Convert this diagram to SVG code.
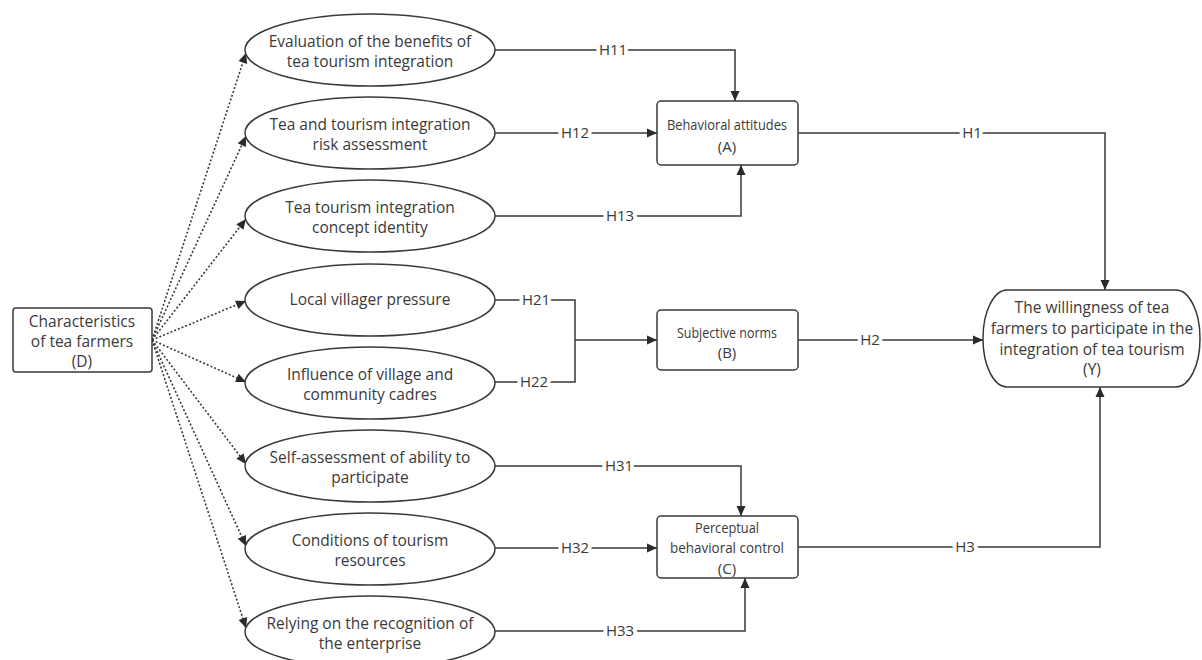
<svg xmlns="http://www.w3.org/2000/svg" width="1202" height="660" viewBox="0 0 1202 660">
<style>
text{font-family:"Open Sans","Liberation Sans",sans-serif;font-size:15.5px;fill:#3a3a3a;text-anchor:middle}
.bx{font-size:15px}
.node{fill:#fff;stroke:#3a3a3a;stroke-width:1.5}
.ln{fill:none;stroke:#3a3a3a;stroke-width:1.5}
.dot{fill:none;stroke:#3a3a3a;stroke-width:1.6;stroke-dasharray:2 2}
.lbl{font-size:15px;stroke:#fff;stroke-width:8;paint-order:stroke;stroke-linejoin:round}
</style>
<defs>
<marker id="arr" viewBox="0 0 10 10" refX="10" refY="5" markerWidth="11" markerHeight="10" markerUnits="userSpaceOnUse" orient="auto">
<path d="M0,0.5 L10,5 L0,9.5 z" fill="#2a2a2a"/>
</marker>
</defs>
<rect width="1202" height="660" fill="#fff"/>
<g id="connectors">
<path class="dot" d="M152,340 L246,53" marker-end="url(#arr)"/>
<path class="dot" d="M152,340 L246,136" marker-end="url(#arr)"/>
<path class="dot" d="M152,340 L246,219" marker-end="url(#arr)"/>
<path class="dot" d="M152,340 L246,301" marker-end="url(#arr)"/>
<path class="dot" d="M152,340 L246,382" marker-end="url(#arr)"/>
<path class="dot" d="M152,340 L246,464" marker-end="url(#arr)"/>
<path class="dot" d="M152,340 L246,546" marker-end="url(#arr)"/>
<path class="dot" d="M152,340 L246,628" marker-end="url(#arr)"/>
<path class="ln" d="M495,50 H735 V101" marker-end="url(#arr)"/>
<path class="ln" d="M495,133 H657" marker-end="url(#arr)"/>
<path class="ln" d="M495,216 H741 V165" marker-end="url(#arr)"/>
<path class="ln" d="M495,300 H575 V382 H495"/>
<path class="ln" d="M575,340 H657" marker-end="url(#arr)"/>
<path class="ln" d="M798,133 H1105 V290" marker-end="url(#arr)"/>
<path class="ln" d="M798,340 H983" marker-end="url(#arr)"/>
<path class="ln" d="M798,547 H1100 V387" marker-end="url(#arr)"/>
<path class="ln" d="M495,466 H741 V516" marker-end="url(#arr)"/>
<path class="ln" d="M495,548 H657" marker-end="url(#arr)"/>
<path class="ln" d="M495,631 H745 V578" marker-end="url(#arr)"/>
<text class="lbl" x="613" y="55">H11</text>
<text class="lbl" x="575" y="138">H12</text>
<text class="lbl" x="620" y="221">H13</text>
<text class="lbl" x="536" y="305">H21</text>
<text class="lbl" x="534" y="387">H22</text>
<text class="lbl" x="972" y="138">H1</text>
<text class="lbl" x="870" y="345">H2</text>
<text class="lbl" x="965" y="552">H3</text>
<text class="lbl" x="619" y="471">H31</text>
<text class="lbl" x="575" y="553">H32</text>
<text class="lbl" x="620" y="636">H33</text>
</g>
<g id="nodeD">
<rect class="node" x="13" y="308" width="139" height="64" rx="3"/>
<text x="82" y="327">Characteristics</text>
<text x="82" y="347">of tea farmers</text>
<text x="82" y="367">(D)</text>
</g>
<g id="e1">
<ellipse class="node" cx="370" cy="50" rx="125" ry="36"/>
<text x="370" y="47">Evaluation of the benefits of</text>
<text x="370" y="67">tea tourism integration</text>
</g>
<g id="e2">
<ellipse class="node" cx="370" cy="133" rx="125" ry="36"/>
<text x="370" y="130">Tea and tourism integration</text>
<text x="370" y="150">risk assessment</text>
</g>
<g id="e3">
<ellipse class="node" cx="370" cy="216" rx="125" ry="36"/>
<text x="370" y="213">Tea tourism integration</text>
<text x="370" y="233">concept identity</text>
</g>
<g id="e4">
<ellipse class="node" cx="370" cy="300" rx="125" ry="36"/>
<text x="370" y="305">Local villager pressure</text>
</g>
<g id="e5">
<ellipse class="node" cx="370" cy="383" rx="125" ry="36"/>
<text x="370" y="380">Influence of village and</text>
<text x="370" y="400">community cadres</text>
</g>
<g id="e6">
<ellipse class="node" cx="370" cy="466" rx="125" ry="36"/>
<text x="370" y="463">Self-assessment of ability to</text>
<text x="370" y="483">participate</text>
</g>
<g id="e7">
<ellipse class="node" cx="370" cy="549" rx="125" ry="36"/>
<text x="370" y="546">Conditions of tourism</text>
<text x="370" y="566">resources</text>
</g>
<g id="e8">
<ellipse class="node" cx="370" cy="632" rx="125" ry="36"/>
<text x="370" y="629">Relying on the recognition of</text>
<text x="370" y="649">the enterprise</text>
</g>
<g id="nodeA">
<rect class="node" x="657" y="101" width="141" height="64" rx="4"/>
<text class="bx" x="727" y="130" textLength="120" lengthAdjust="spacingAndGlyphs">Behavioral attitudes</text>
<text class="bx" x="727" y="152">(A)</text>
</g>
<g id="nodeB">
<rect class="node" x="657" y="310" width="141" height="60" rx="4"/>
<text class="bx" x="727" y="338" textLength="100" lengthAdjust="spacingAndGlyphs">Subjective norms</text>
<text class="bx" x="727" y="358">(B)</text>
</g>
<g id="nodeC">
<rect class="node" x="657" y="516" width="141" height="62" rx="4"/>
<text class="bx" x="727" y="533" textLength="64" lengthAdjust="spacingAndGlyphs">Perceptual</text>
<text class="bx" x="727" y="553" textLength="114" lengthAdjust="spacingAndGlyphs">behavioral control</text>
<text class="bx" x="727" y="574">(C)</text>
</g>
<g id="nodeY">
<rect class="node" x="983" y="290" width="217" height="97" rx="24" ry="48"/>
<text x="1092" y="313">The willingness of tea</text>
<text x="1092" y="334">farmers to participate in the</text>
<text x="1092" y="355">integration of tea tourism</text>
<text x="1092" y="375">(Y)</text>
</g>
</svg>
